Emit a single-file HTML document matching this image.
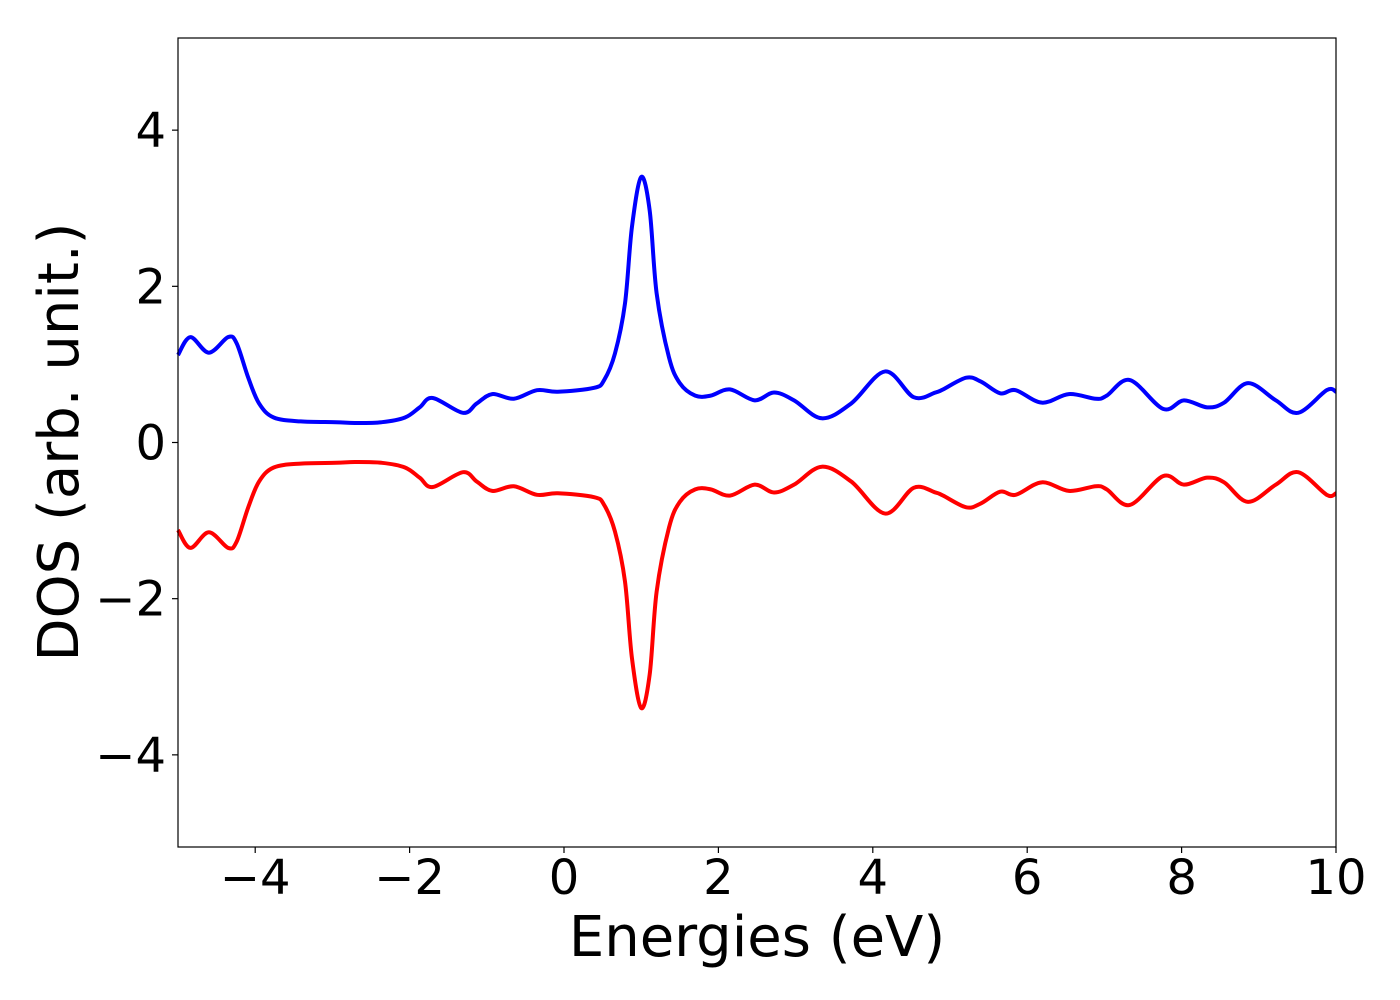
<!DOCTYPE html>
<html><head><meta charset="utf-8"><style>
html,body{margin:0;padding:0;background:#fff;}
svg{display:block;font-family:"DejaVu Sans","Liberation Sans",sans-serif;}
</style></head><body>
<svg id="chart" width="1400" height="1000" viewBox="0 0 1400 1000" xmlns="http://www.w3.org/2000/svg">
<rect x="0" y="0" width="1400" height="1000" fill="#fff"/>
<g id="ticks"></g>
<g id="series"></g>
<rect x="178" y="38" width="1158" height="809" fill="none" stroke="#000" stroke-width="1.2"/>
<text x="757" y="956" font-size="56" text-anchor="middle">Energies (eV)</text>
<text transform="translate(78,442) rotate(-90)" font-size="56" text-anchor="middle">DOS (arb. unit.)</text>
</svg>
<script>
const energies = [-5.0,-4.84,-4.60,-4.35,-4.24,-4.09,-3.95,-3.76,-3.41,-2.95,-2.71,-2.36,-2.06,-1.87,-1.70,-1.31,-1.13,-0.93,-0.65,-0.35,-0.08,0.39,0.52,0.66,0.79,0.88,1.00,1.11,1.20,1.36,1.50,1.70,1.90,2.15,2.47,2.72,2.98,3.34,3.72,4.16,4.53,4.81,4.91,5.21,5.40,5.65,5.85,6.19,6.54,6.89,7.03,7.33,7.76,8.03,8.33,8.55,8.86,9.22,9.51,9.88,10.0];
const spinUp = [1.12,1.35,1.15,1.35,1.27,0.83,0.5,0.32,0.27,0.26,0.25,0.26,0.32,0.45,0.57,0.38,0.5,0.62,0.56,0.67,0.65,0.70,0.8,1.14,1.78,2.76,3.4,2.97,1.91,1.09,0.76,0.6,0.6,0.68,0.54,0.64,0.54,0.31,0.5,0.91,0.58,0.64,0.68,0.83,0.78,0.63,0.67,0.51,0.62,0.56,0.6,0.8,0.43,0.54,0.45,0.51,0.76,0.54,0.38,0.67,0.65];
const spinDown = [-1.12,-1.35,-1.15,-1.35,-1.27,-0.83,-0.5,-0.32,-0.27,-0.26,-0.25,-0.26,-0.32,-0.45,-0.57,-0.38,-0.5,-0.62,-0.56,-0.67,-0.65,-0.70,-0.8,-1.14,-1.78,-2.76,-3.4,-2.97,-1.91,-1.09,-0.76,-0.6,-0.6,-0.68,-0.54,-0.64,-0.54,-0.31,-0.5,-0.91,-0.58,-0.64,-0.68,-0.83,-0.78,-0.63,-0.67,-0.51,-0.62,-0.56,-0.6,-0.8,-0.43,-0.54,-0.45,-0.51,-0.76,-0.54,-0.38,-0.67,-0.65];
const xTicks = [-4,-2,0,2,4,6,8,10];
const yTicks = [-4,-2,0,2,4];
const xMin=-5,xMax=10,yMin=-5.18,yMax=5.18;
const L=178,R=1336,T=38,B=847;
function sx(v){return L+(v-xMin)/(xMax-xMin)*(R-L);}
function sy(v){return B-(v-yMin)/(yMax-yMin)*(B-T);}
const NS="http://www.w3.org/2000/svg";
const tg=document.getElementById('ticks');
function lab(v){return v<0?'\u2212'+Math.abs(v):String(v);}
xTicks.forEach(v=>{
  const l=document.createElementNS(NS,'line');
  
  
  l.setAttribute('x1',sx(v));l.setAttribute('x2',sx(v));l.setAttribute('y1',B);l.setAttribute('y2',B+6);
  l.setAttribute('stroke','#000');l.setAttribute('stroke-width','1.2');tg.appendChild(l);
  const t=document.createElementNS(NS,'text');
  
  
  t.setAttribute('x',sx(v));t.setAttribute('y',894);t.setAttribute('font-size','48');t.setAttribute('text-anchor','middle');
  t.textContent=lab(v);tg.appendChild(t);
});
yTicks.forEach(v=>{
  const l=document.createElementNS(NS,'line');
  
  
  l.setAttribute('x1',L-6);l.setAttribute('x2',L);l.setAttribute('y1',sy(v));l.setAttribute('y2',sy(v));
  l.setAttribute('stroke','#000');l.setAttribute('stroke-width','1.2');tg.appendChild(l);
  const t=document.createElementNS(NS,'text');
  
  
  t.setAttribute('x',L-12);t.setAttribute('y',sy(v)+17);t.setAttribute('font-size','48');t.setAttribute('text-anchor','end');
  t.textContent=lab(v);tg.appendChild(t);
});
function pathFor(xs,ys){
  const p=xs.map((x,i)=>[sx(x),sy(ys[i])]);
  let d='M'+p[0][0]+','+p[0][1];
  for(let i=0;i<p.length-1;i++){
    const p0=p[Math.max(0,i-1)],p1=p[i],p2=p[i+1],p3=p[Math.min(p.length-1,i+2)];
    const c1x=p1[0]+(p2[0]-p0[0])/6,c1y=p1[1]+(p2[1]-p0[1])/6;
    const c2x=p2[0]-(p3[0]-p1[0])/6,c2y=p2[1]-(p3[1]-p1[1])/6;
    d+=' C'+c1x+','+c1y+' '+c2x+','+c2y+' '+p2[0]+','+p2[1];
  }
  return d;
}
const sg=document.getElementById('series');
const up=document.createElementNS(NS,'path');


up.setAttribute('d',pathFor(energies,spinUp));up.setAttribute('fill','none');up.setAttribute('stroke','#0000ff');up.setAttribute('stroke-width','4');up.setAttribute('stroke-linejoin','round');
sg.appendChild(up);
const dn=document.createElementNS(NS,'path');


dn.setAttribute('d',pathFor(energies,spinDown));dn.setAttribute('fill','none');dn.setAttribute('stroke','#ff0000');dn.setAttribute('stroke-width','4');dn.setAttribute('stroke-linejoin','round');
sg.appendChild(dn);
</script>
</body></html>
